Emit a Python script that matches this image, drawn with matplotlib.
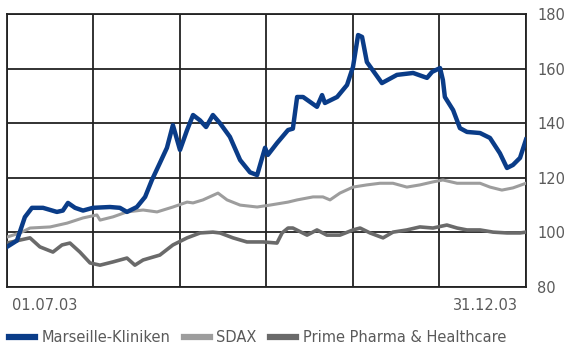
import matplotlib.pyplot as plt
import numpy as np

# days since 01.07.03 and index values
mk_days = [0, 3.5, 6.3, 8.8, 12.7, 17.6, 19.7, 21.5, 24, 26.8, 30.3, 36.3, 39.8, 42.3, 45.8,
           48.7, 51.1, 53.9, 56.4, 58.5, 61, 63.5, 65.6, 68.1, 70.2, 72.6, 75.1, 78.6, 82.2,
           85.7, 88.2, 91, 92, 95.2, 99.1, 100.8, 102.3, 104.4, 109.3, 111.1, 112.1, 116.4,
           119.9, 122, 123.8, 125.2, 126.9, 132.2, 137.5, 143.2, 148.1, 149.9, 152.7, 153.7,
           154.4, 157.3, 159.7, 162.2, 166.8, 170.3, 173.8, 176.3, 178.4, 180.9, 183]
mk_vals = [94.7, 97, 105.6, 109, 109, 107.5, 108, 110.8, 109, 108, 109, 109.3, 109, 107.5, 109.3,
           113, 119.2, 125.4, 131, 139.3, 130.2, 137.5, 143, 141, 138.6, 143, 140, 135, 126.5,
           122, 121, 131, 128.4, 132.7, 137.5, 138, 149.6, 149.6, 146, 150.3, 147.4, 149.6,
           154, 160.6, 172.3, 171.6, 162.4, 154.7, 157.7, 158.4, 156.6, 158.8, 160.2, 155.8,
           149.6, 144.8, 138.2, 136.8, 136.4, 134.6, 129, 123.6, 124.7, 127.3, 134]

sdax_days = [0, 4.6, 8.1, 15.2, 21.2, 26.8, 31.7, 32.8, 37.4, 42.3, 48, 52.9, 58.5, 63.5, 65.6,
             69.1, 74.4, 77.6, 82.2, 88.2, 92.7, 99.1, 102.3, 107.9, 111.4, 113.9, 117.4, 122,
             126.9, 131.5, 136.1, 141, 145.6, 150.2, 153.7, 158.7, 163.3, 166.8, 170.3, 174.5,
             178.4, 183]
sdax_vals = [98.3, 99.8, 101.6, 102, 103.4, 105.3, 106.4, 104.5, 105.7, 107.5, 108.2, 107.5, 109.3,
             111.1, 110.8, 111.9, 114.4, 111.9, 110, 109.3, 110, 111.1, 111.9, 113, 113, 111.9,
             114.4, 116.6, 117.4, 118, 118, 116.6, 117.4, 118.5, 119.2, 118, 118, 118, 116.6,
             115.5, 116.3, 118]

pp_days = [0, 4.6, 8.1, 11.6, 16.2, 19.4, 22.2, 25.7, 29.3, 32.8, 37.4, 42.3, 45.1, 48, 53.9,
           58.5, 63.5, 68.1, 72.6, 75.1, 79.7, 84.6, 90.3, 95.2, 97, 99.1, 100.8, 105.8, 109.3,
           112.8, 117.4, 122, 124.5, 128, 132.6, 136.1, 141, 145.6, 150.2, 155.1, 158.7, 162.2,
           166.8, 171.4, 176.3, 180.9, 183]
pp_vals = [96.1, 97.2, 98, 94.7, 92.8, 95.4, 96.1, 92.8, 88.8, 88, 89.2, 90.6, 88, 89.9, 91.7,
           95.4, 98, 99.8, 100.1, 99.8, 98, 96.5, 96.5, 96.1, 99.8, 101.6, 101.6, 99, 100.9,
           99, 99, 100.9, 101.6, 99.8, 98, 100.1, 100.9, 102, 101.6, 102.7, 101.6, 100.9,
           100.9, 100.1, 99.8, 99.8, 100.1]

y_ticks = [80, 100, 120, 140, 160, 180]
date_labels = ["01.07.03", "31.12.03"]
series_names = ["Marseille-Kliniken", "SDAX", "Prime Pharma & Healthcare"]

fig = plt.figure(figsize=(5.64, 3.5), dpi=100)
ax = fig.add_axes([0.0124, 0.18, 0.9202, 0.78])

ax.plot(pp_days, pp_vals, color="#6a6a6a", lw=2.6, solid_joinstyle="round", zorder=3)
ax.plot(sdax_days, sdax_vals, color="#9d9d9d", lw=2.2, solid_joinstyle="round", zorder=3)
ax.plot(mk_days, mk_vals, color="#0a3c88", lw=3.2, solid_joinstyle="round", zorder=4)

ax.set_xlim(0, 183)
ax.set_ylim(80, 180)
ax.set_xticks(np.linspace(0, 183, 7))
ax.set_yticks(y_ticks)
ax.grid(True, color="#222222", lw=1.3, zorder=1)
for s in ax.spines.values():
    s.set_color("#222222")
    s.set_linewidth(1.3)

ax.tick_params(axis="x", length=0, labelbottom=False)
ax.tick_params(axis="y", length=0, labelleft=False, labelright=True, pad=8,
               labelsize=10.5, labelcolor="#5a5a5a")

ax.text(0.01, -0.04, date_labels[0], transform=ax.transAxes, ha="left", va="top",
        fontsize=10.5, color="#5a5a5a")
ax.text(0.985, -0.04, date_labels[1], transform=ax.transAxes, ha="right", va="top",
        fontsize=10.5, color="#5a5a5a")

handles = [
    plt.Line2D([0], [0], color="#0a3c88", lw=4.5),
    plt.Line2D([0], [0], color="#9d9d9d", lw=4.5),
    plt.Line2D([0], [0], color="#6a6a6a", lw=4.5),
]
fig.legend(handles, series_names, loc="lower left", bbox_to_anchor=(0.0, -0.01), ncol=3,
           frameon=False, fontsize=10.5, labelcolor="#5a5a5a", handlelength=1.8,
           handletextpad=0.45, columnspacing=0.9, borderaxespad=0.2)

fig.savefig("out.png", dpi=100)
